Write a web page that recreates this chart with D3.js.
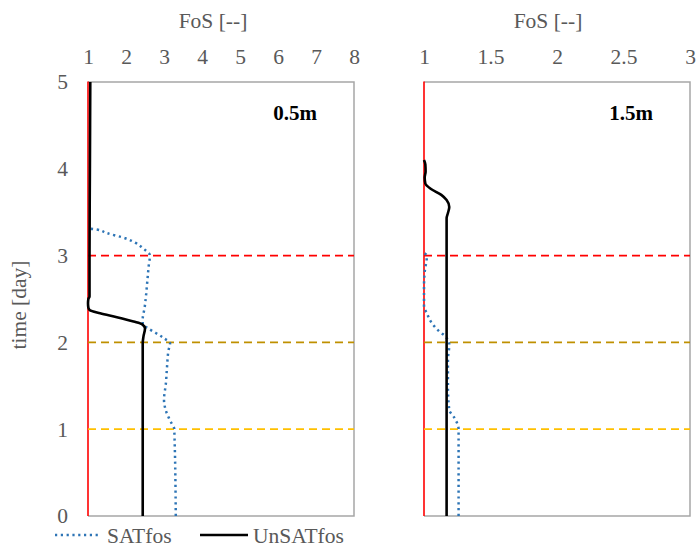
<!DOCTYPE html>
<html>
<head>
<meta charset="utf-8">
<script src="https://cdn.jsdelivr.net/npm/d3@7"></script>
<style>
  html, body { margin: 0; padding: 0; background: #fff; }
  svg text { font-family: "Liberation Serif", "Times New Roman", serif; }
</style>
</head>
<body>
<svg id="chart" width="697" height="549"></svg>
<script>
// Factor of safety over time, two depths
const timeTicks = [0, 1, 2, 3, 4, 5];
const fosTicksShallow = [1, 2, 3, 4, 5, 6, 7, 8];
const fosTicksDeep = [1, 1.5, 2, 2.5, 3];
const stageTimes = [3, 2, 1];
const stageColors = ["#FF0000", "#BF9000", "#FFC000"];
const depthLabels = ["0.5m", "1.5m"];
const seriesNames = ["SATfos", "UnSATfos"];

// 0.5 m depth
const satTime05 = [0, 1.0, 1.1, 1.2, 1.34, 1.53, 1.72, 1.91, 1.99, 2.05, 2.12, 2.17, 2.21, 2.27, 2.4, 2.51, 2.7, 2.89, 3.0, 3.08, 3.15, 3.2, 3.26, 3.3, 3.31, 3.32];
const satFos05  = [3.31, 3.27, 3.16, 3.06, 3.0, 3.05, 3.08, 3.12, 3.16, 2.99, 2.74, 2.55, 2.44, 2.44, 2.49, 2.52, 2.56, 2.6, 2.63, 2.46, 2.24, 1.98, 1.49, 1.23, 1.05, 1.0];
const unsatTime05 = [0, 1.99, 2.07, 2.16, 2.21, 2.24, 2.29, 2.335, 2.37, 2.4, 2.45, 2.5, 2.53, 3.0, 4.0, 5.0];
const unsatFos05  = [2.44, 2.44, 2.46, 2.5, 2.42, 2.2, 1.76, 1.32, 1.05, 1.01, 1.0, 1.01, 1.04, 1.04, 1.05, 1.06];

// 1.5 m depth
const satTime15 = [0, 1.0, 1.14, 1.22, 1.49, 1.8, 1.97, 2.07, 2.12, 2.22, 2.34, 2.41, 2.65, 2.87, 2.95, 3.0, 3.03];
const satFos15  = [1.26, 1.26, 1.225, 1.19, 1.18, 1.18, 1.19, 1.16, 1.12, 1.06, 1.02, 1.0, 1.0, 1.01, 1.02, 1.02, 1.0];
const unsatTime15 = [0, 3.43, 3.49, 3.56, 3.64, 3.7, 3.77, 3.83, 3.9, 3.97, 4.05, 4.1];
const unsatFos15  = [1.17, 1.17, 1.18, 1.19, 1.17, 1.13, 1.05, 1.01, 1.005, 1.012, 1.01, 1.0];

const svg = d3.select("#chart");
const textGray = "#595959";
const frameGray = "#A6A6A6";
const fontSize = 21.5;

const y = d3.scaleLinear().domain([0, 5]).range([516, 82]);

const panels = [
  { x: d3.scaleLinear().domain([1, 8]).range([88, 354]), ticks: fosTicksShallow, label: depthLabels[0],
    sat: d3.zip(satFos05, satTime05), unsat: d3.zip(unsatFos05, unsatTime05), labelX: 295, titleX: 213 },
  { x: d3.scaleLinear().domain([1, 3]).range([424, 690]), ticks: fosTicksDeep, label: depthLabels[1],
    sat: d3.zip(satFos15, satTime15), unsat: d3.zip(unsatFos15, unsatTime15), labelX: 631, titleX: 548 }
];

panels.forEach((p, i) => {
  const [x0, x1] = p.x.range();
  const g = svg.append("g");

  g.append("clipPath").attr("id", "clip" + i)
    .append("rect").attr("x", x0 - 2).attr("y", y(5) - 2).attr("width", x1 - x0 + 4).attr("height", y(0) - y(5) + 4);

  // plot frame (top, right, bottom)
  g.append("path")
    .attr("d", `M${x0},${y(5)}H${x1}V${y(0)}H${x0}`)
    .attr("fill", "none").attr("stroke", frameGray).attr("stroke-width", 1.5);

  // FoS = 1 reference
  g.append("line")
    .attr("x1", p.x(1)).attr("x2", p.x(1)).attr("y1", y(5) - 0.5).attr("y2", y(0))
    .attr("stroke", "#FF0000").attr("stroke-width", 1.6);

  // stage markers
  stageTimes.forEach((t, k) => {
    g.append("line")
      .attr("x1", x0).attr("x2", x1).attr("y1", y(t)).attr("y2", y(t))
      .attr("stroke", stageColors[k]).attr("stroke-width", 1.8)
      .attr("stroke-dasharray", "8,5");
  });

  const line = d3.line().x(d => p.x(d[0])).y(d => y(d[1])).curve(d3.curveMonotoneY);

  g.append("path").datum(p.sat)
    .attr("d", line).attr("fill", "none").attr("clip-path", `url(#clip${i})`)
    .attr("stroke", "#2E75B6").attr("stroke-width", 2.5).attr("stroke-dasharray", "2.2,3.6");

  g.append("path").datum(p.unsat)
    .attr("d", line).attr("fill", "none").attr("clip-path", `url(#clip${i})`)
    .attr("stroke", "#000").attr("stroke-width", 2.6);

  // top axis
  const ax = g.append("g").attr("transform", `translate(0,${y(5)})`)
    .call(d3.axisTop(p.x).tickValues(p.ticks).tickSize(0).tickPadding(18).tickFormat(d3.format("~g")));
  ax.select(".domain").remove();
  ax.selectAll("text").attr("font-size", fontSize).attr("fill", textGray)
    .attr("font-family", "Liberation Serif, serif");

  g.append("text")
    .attr("x", p.titleX).attr("y", 28).attr("text-anchor", "middle")
    .attr("font-size", fontSize).attr("fill", textGray).text("FoS [--]");

  g.append("text")
    .attr("x", p.labelX).attr("y", 120).attr("text-anchor", "middle")
    .attr("font-size", 21).attr("font-weight", "bold").attr("fill", "#000").text(p.label);
});

// time axis (left panel)
const ay = svg.append("g").attr("transform", `translate(88,0)`)
  .call(d3.axisLeft(y).tickValues(timeTicks).tickSize(0).tickPadding(20).tickFormat(d3.format("d")));
ay.select(".domain").remove();
ay.selectAll("text").attr("font-size", fontSize).attr("fill", textGray)
  .attr("font-family", "Liberation Serif, serif");

svg.append("text")
  .attr("transform", "translate(26,305) rotate(-90)")
  .attr("text-anchor", "middle").attr("font-size", fontSize).attr("fill", textGray)
  .text("time [day]");

// legend
const legend = svg.append("g");
legend.append("line").attr("x1", 55).attr("x2", 98).attr("y1", 535).attr("y2", 535)
  .attr("stroke", "#2E75B6").attr("stroke-width", 2.5).attr("stroke-dasharray", "2.2,3.6");
legend.append("text").attr("x", 107).attr("y", 543).attr("font-size", fontSize).attr("fill", textGray).text(seriesNames[0]);
legend.append("line").attr("x1", 200).attr("x2", 248).attr("y1", 535).attr("y2", 535)
  .attr("stroke", "#000").attr("stroke-width", 2.6);
legend.append("text").attr("x", 253).attr("y", 543).attr("font-size", fontSize).attr("fill", textGray).text(seriesNames[1]);
</script>
</body>
</html>
